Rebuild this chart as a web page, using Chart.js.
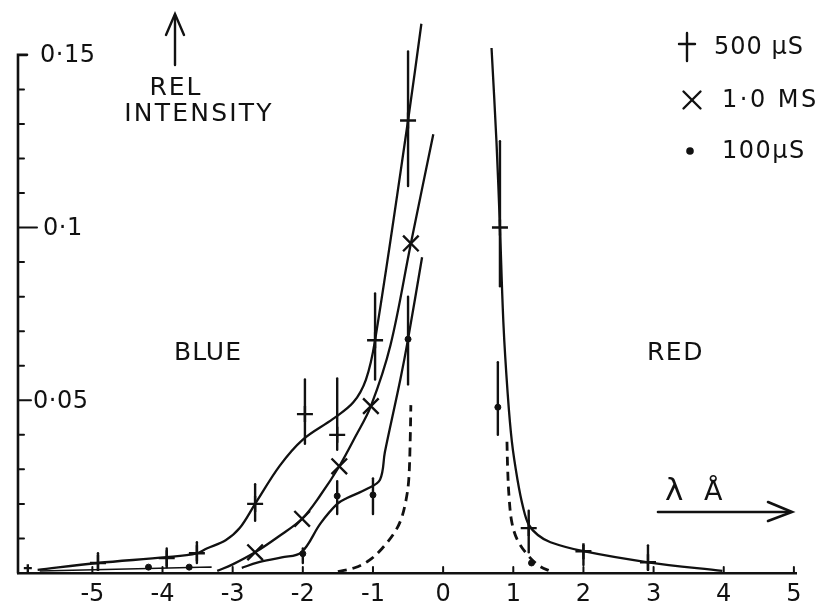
<!DOCTYPE html>
<html><head><meta charset="utf-8">
<script src="https://cdn.jsdelivr.net/npm/chart.js@4.4.1/dist/chart.umd.min.js"></script>
<style>html,body{margin:0;padding:0;background:#fff}#wrap{width:828px;height:601px}</style>
</head><body><div id="wrap"><canvas id="c" width="828" height="601"></canvas></div>
<script>
// ---------- data ----------
const xTicks = [-5,-4,-3,-2,-1,0,1,2,3,4,5];
const yTicks = [0.05, 0.1, 0.15];
const yTickLabels = ['0·05', '0·1', '0·15'];
const yMinorTicks = [0.01,0.02,0.03,0.04,0.06,0.07,0.08,0.09,0.11,0.12,0.13,0.14];

// 500 µS measured points (+) with error bars
const p500X  = [-5.92,-4.92,-3.94,-3.51,-2.68,-1.97,-1.51,-0.97,-0.50, 0.81, 1.22, 2.00, 2.92];
const p500Y  = [0.0014,0.0029,0.0043,0.0057,0.0200,0.0460,0.0400,0.0674,0.1310,0.1000,0.0130,0.0063,0.0031];
const p500Lo = [null,0.0009,0.0017,0.0029,0.0151,0.0374,0.0357,0.0560,0.1120,0.0830,0.0060,0.0023,0.0009];
const p500Hi = [null,0.0057,0.0071,0.0089,0.0257,0.0560,0.0563,0.0809,0.1510,0.1250,0.0180,0.0080,0.0080];
// 500 µS drawn curves
const c500BlueX = [-5.78,-4.92,-3.94,-3.51,-3.37,-3.10,-2.90,-2.68,-2.33,-2.00,-1.57,-1.28,-1.10,-0.97,-0.50,-0.31];
const c500BlueY = [0.0009,0.0029,0.0046,0.0057,0.0071,0.0095,0.0130,0.0200,0.0310,0.0386,0.0446,0.0494,0.0560,0.0674,0.1310,0.1590];
const c500RedX  = [0.69,0.76,0.81,0.86,0.92,0.98,1.06,1.14,1.22,1.35,1.53,2.00,2.92,3.98];
const c500RedY  = [0.152,0.125,0.100,0.072,0.052,0.038,0.027,0.019,0.014,0.011,0.0089,0.0063,0.0031,0.0006];

// 1.0 MS measured points (x)
const p1msX = [-2.68,-2.01,-1.48,-1.03,-0.46];
const p1msY = [0.0060,0.0157,0.0309,0.0483,0.0954];
const c1msX = [-3.22,-3.00,-2.68,-2.35,-2.01,-1.75,-1.48,-1.25,-1.03,-0.75,-0.46,-0.14];
const c1msY = [0.0006,0.0025,0.0060,0.0105,0.0157,0.0225,0.0309,0.0395,0.0483,0.0660,0.0954,0.1270];

// 100 µS measured points (dot) with error bars
const p100X  = [-4.20,-3.62,-2.00,-1.51,-1.00,-0.50, 0.78, 1.26];
const p100Y  = [0.0017,0.0017,0.0056,0.0223,0.0226,0.0677,0.0480,0.0029];
const p100Lo = [null,null,0.0029,0.0171,0.0171,0.0546,0.0400,null];
const p100Hi = [null,null,0.0071,0.0266,0.0274,0.0800,0.0610,null];
const c100TailX = [-5.75,-4.20,-3.62,-3.30];
const c100TailY = [0.0006,0.0013,0.0016,0.0017];
const c100X = [-2.87,-2.65,-2.30,-2.02,-1.75,-1.51,-1.37,-1.09,-0.90,-0.83,-0.61,-0.50,-0.30];
const c100Y = [0.0015,0.0030,0.0045,0.0060,0.0143,0.0200,0.0217,0.0243,0.0270,0.0350,0.0560,0.0677,0.0914];

// dashed profile (blue and red wings)
const dashBlueX = [-1.50,-1.25,-1.05,-0.87,-0.70,-0.60,-0.53,-0.49,-0.47,-0.46];
const dashBlueY = [0.0004,0.0016,0.0037,0.0071,0.0115,0.0155,0.0210,0.0270,0.0380,0.0486];
const dashRedX  = [0.91,0.92,0.94,0.98,1.06,1.21,1.36,1.55];
const dashRedY  = [0.038,0.030,0.022,0.0146,0.0095,0.0051,0.0022,0.0003];

const legendLabels = ['500 µS', '1·0 MS', '100µS'];

// ---------- helpers ----------
const INK = '#111';
const pts = (xs, ys) => xs.map((x, i) => ({x, y: ys[i]}));
const FONT = '"DejaVu Sans", "Liberation Sans", sans-serif';

function curve(xs, ys, dash, width) {
  return { data: pts(xs, ys), showLine: true, pointRadius: 0, borderColor: INK,
           borderWidth: width || 2.3, borderDash: dash || [], tension: 0.35, fill: false };
}

const errorBars = {
  id: 'errorBars',
  afterDatasetsDraw(chart) {
    const ctx = chart.ctx, xs = chart.scales.x, ys = chart.scales.y;
    ctx.save();
    ctx.strokeStyle = INK; ctx.lineWidth = 2.4; ctx.lineCap = 'round';
    const sets = [[p500X, p500Lo, p500Hi], [p100X, p100Lo, p100Hi]];
    sets.forEach(([X, L, H]) => {
      X.forEach((x, i) => {
        if (L[i] == null) return;
        const px = xs.getPixelForValue(x);
        ctx.beginPath();
        ctx.moveTo(px, ys.getPixelForValue(L[i]));
        ctx.lineTo(px, ys.getPixelForValue(H[i]));
        ctx.stroke();
      });
    });
    ctx.restore();
  }
};

function text(ctx, s, x, y, size, spacing, align) {
  ctx.font = size + 'px ' + FONT;
  ctx.letterSpacing = (spacing || 0) + 'px';
  ctx.textAlign = align || 'left';
  ctx.fillText(s, x, y);
  ctx.letterSpacing = '0px';
}

const decorations = {
  id: 'decorations',
  afterDraw(chart) {
    const ctx = chart.ctx, xs = chart.scales.x, ys = chart.scales.y;
    const left = chart.chartArea.left, bottom = chart.chartArea.bottom;
    ctx.save();
    ctx.strokeStyle = INK; ctx.fillStyle = INK; ctx.lineCap = 'round';
    // y axis line up to top tick, with hook
    const yTop = ys.getPixelForValue(yTicks[yTicks.length - 1]);
    ctx.lineWidth = 2.6;
    ctx.beginPath(); ctx.moveTo(left, bottom); ctx.lineTo(left, yTop); ctx.lineTo(left + 9, yTop); ctx.stroke();
    ctx.lineWidth = 2;
    yMinorTicks.forEach(v => {
      const py = ys.getPixelForValue(v);
      ctx.beginPath(); ctx.moveTo(left, py); ctx.lineTo(left + 6, py); ctx.stroke();
    });
    const tickLen = [13, 19];
    yTicks.slice(0, -1).forEach((v, i) => {
      const py = ys.getPixelForValue(v);
      ctx.beginPath(); ctx.moveTo(left, py); ctx.lineTo(left + tickLen[i], py); ctx.stroke();
    });
    ctx.textBaseline = 'middle';
    const labelDx = [15, 25, 22];
    yTicks.forEach((v, i) => {
      text(ctx, yTickLabels[i], left + labelDx[i], ys.getPixelForValue(v) + 1, 24, 0.5);
    });
    // x ticks (inward)
    xTicks.forEach(v => {
      const px = xs.getPixelForValue(v);
      ctx.beginPath(); ctx.moveTo(px, bottom); ctx.lineTo(px, bottom - 6); ctx.stroke();
    });
    // REL INTENSITY with arrow
    ctx.lineWidth = 2.4;
    ctx.beginPath(); ctx.moveTo(175, 65); ctx.lineTo(175, 15); ctx.stroke();
    ctx.beginPath(); ctx.moveTo(166, 35); ctx.lineTo(175, 14); ctx.lineTo(184, 35); ctx.stroke();
    text(ctx, 'REL', 176, 88, 25, 2, 'center');
    text(ctx, 'INTENSITY', 199, 114, 25, 2.2, 'center');
    text(ctx, 'BLUE', 174, 353, 25, 1);
    text(ctx, 'RED', 647, 353, 25, 1.5);
    // wavelength arrow
    ctx.textBaseline = 'alphabetic';
    text(ctx, 'λ', 665, 500, 31, 0);
    text(ctx, 'Å', 704, 500, 27, 0);
    ctx.lineWidth = 2.6;
    ctx.beginPath(); ctx.moveTo(658, 512); ctx.lineTo(788, 512); ctx.stroke();
    ctx.beginPath(); ctx.moveTo(768, 502); ctx.lineTo(792, 512); ctx.lineTo(768, 521); ctx.stroke();
    // legend
    ctx.textBaseline = 'middle';
    ctx.lineWidth = 2.4;
    ctx.beginPath(); ctx.moveTo(687, 33); ctx.lineTo(687, 61); ctx.moveTo(679, 44); ctx.lineTo(695, 44); ctx.stroke();
    Chart.helpers.drawPoint(ctx, {pointStyle: 'crossRot', radius: 12, borderWidth: 2.4}, 692, 100);
    ctx.beginPath(); ctx.arc(690, 151, 3.8, 0, Math.PI * 2); ctx.fill();
    text(ctx, legendLabels[0], 714, 48, 24, 1);
    text(ctx, legendLabels[1], 722, 101, 24, 2.5);
    text(ctx, legendLabels[2], 722, 152, 24, 1.5);
    ctx.restore();
  }
};

new Chart(document.getElementById('c'), {
  type: 'scatter',
  data: {
    datasets: [
      curve(c500BlueX, c500BlueY), curve(c500RedX, c500RedY),
      curve(c1msX, c1msY),
      curve(c100TailX, c100TailY, [], 1.6), curve(c100X, c100Y),
      curve(dashBlueX, dashBlueY, [9, 6], 2.8), curve(dashRedX, dashRedY, [9, 6], 2.8),
      { data: pts(p500X, p500Y), pointStyle: 'cross', pointRadius: p500X.map((x, i) => i === 0 ? 4 : 8),
        pointBorderWidth: 2.4, pointBorderColor: INK, showLine: false },
      { data: pts(p1msX, p1msY), pointStyle: 'crossRot', pointRadius: 11,
        pointBorderWidth: 2.4, pointBorderColor: INK, showLine: false },
      { data: pts(p100X, p100Y), pointStyle: 'circle', pointRadius: 3,
        pointBorderWidth: 1, pointBorderColor: INK, pointBackgroundColor: INK, showLine: false }
    ]
  },
  options: {
    responsive: false, animation: false, devicePixelRatio: 1,
    layout: { padding: { left: 18, right: 32, top: 6, bottom: 0 } },
    plugins: { legend: { display: false }, tooltip: { enabled: false } },
    scales: {
      x: { type: 'linear', min: -6.06, max: 5.03,
           afterBuildTicks: s => { s.ticks = xTicks.map(v => ({value: v})); },
           afterFit: s => { s.height = 28; },
           grid: { display: false, drawTicks: false },
           border: { display: true, color: INK, width: 2.6 },
           ticks: { color: INK, padding: 7, font: { family: FONT, size: 24 },
                    maxRotation: 0, autoSkip: false,
                    callback: v => (v < 0 ? '-' + Math.abs(v) : String(v)) } },
      y: { type: 'linear', min: 0, max: 0.162, display: false }
    }
  },
  plugins: [errorBars, decorations]
});
</script>
</body></html>
